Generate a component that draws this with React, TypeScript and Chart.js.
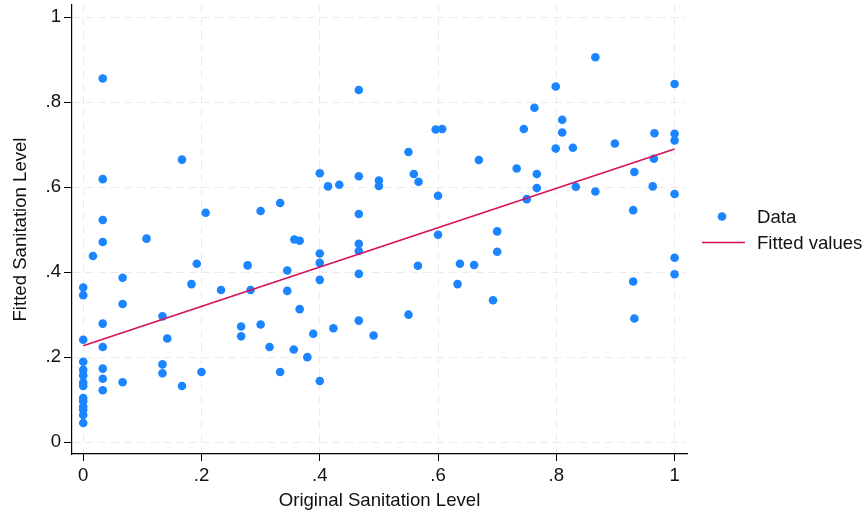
import React, { useEffect, useRef } from "react";
import { Chart, registerables } from "chart.js";

Chart.register(...registerables);

// Scatter data (Original Sanitation Level -> Fitted Sanitation Level)
const dataX: number[] = [
  0, 0, 0, 0, 0, 0, 0, 0, 0, 0, 0, 0, 0, 0,
  0.0164,
  0.033, 0.033, 0.033, 0.033, 0.033, 0.033, 0.033, 0.033, 0.033,
  0.0666, 0.0666, 0.0666,
  0.107,
  0.134, 0.134, 0.134,
  0.142,
  0.167, 0.167,
  0.183, 0.192, 0.2, 0.207, 0.233,
  0.267, 0.267,
  0.278, 0.283,
  0.3, 0.3,
  0.315,
  0.333, 0.333,
  0.345, 0.345,
  0.356, 0.357,
  0.366, 0.366,
  0.379, 0.389,
  0.4, 0.4, 0.4, 0.4, 0.4,
  0.414, 0.423, 0.433,
  0.466, 0.466, 0.466, 0.466, 0.466, 0.466, 0.466,
  0.491,
  0.5, 0.5,
  0.55, 0.55,
  0.559, 0.567, 0.566,
  0.596, 0.607,
  0.6, 0.6,
  0.633, 0.637, 0.661, 0.669, 0.693,
  0.7, 0.7,
  0.733, 0.745, 0.75, 0.763,
  0.767, 0.767,
  0.799, 0.799,
  0.81, 0.81,
  0.828, 0.833,
  0.866, 0.866,
  0.899,
  0.93, 0.93,
  0.932, 0.932,
  0.963, 0.965, 0.966,
  1, 1, 1, 1, 1, 1,
];
const dataY: number[] = [
  0.364, 0.346, 0.241, 0.189, 0.17, 0.157, 0.14, 0.132, 0.104, 0.096, 0.084, 0.076, 0.064, 0.045,
  0.438,
  0.856, 0.619, 0.523, 0.471, 0.279, 0.224, 0.173, 0.149, 0.122,
  0.387, 0.325, 0.141,
  0.479,
  0.296, 0.183, 0.162,
  0.244,
  0.665, 0.132,
  0.372, 0.42, 0.165, 0.54, 0.358,
  0.272, 0.249,
  0.416, 0.358,
  0.544, 0.277,
  0.224,
  0.563, 0.165,
  0.404, 0.356,
  0.218, 0.477,
  0.474, 0.313,
  0.2, 0.255,
  0.633, 0.444, 0.422, 0.382, 0.144,
  0.602, 0.268, 0.606,
  0.829, 0.626, 0.537, 0.467, 0.45, 0.396, 0.286,
  0.251,
  0.616, 0.603,
  0.683, 0.3,
  0.631, 0.613, 0.415,
  0.736, 0.737,
  0.58, 0.488,
  0.372, 0.42, 0.417, 0.664, 0.334,
  0.496, 0.448,
  0.644, 0.737, 0.572, 0.787,
  0.631, 0.598,
  0.837, 0.691,
  0.759, 0.729,
  0.693, 0.601,
  0.906, 0.59,
  0.703,
  0.546, 0.378,
  0.636, 0.291,
  0.602, 0.667, 0.727,
  0.843, 0.726, 0.71, 0.584, 0.434, 0.395,
];

// Fitted line end points
const fitX: number[] = [0, 1];
const fitY: number[] = [0.227, 0.69];

// Axis ticks
const tickValues: number[] = [0, 0.2, 0.4, 0.6, 0.8, 1];
const tickLabels: string[] = ["0", ".2", ".4", ".6", ".8", "1"];

const legendLabels: string[] = ["Data", "Fitted values"];
const xTitle = "Original Sanitation Level";
const yTitle = "Fitted Sanitation Level";

const BLUE = "#1a85ff";
const RED = "#d41159";
const FONT = "'Liberation Sans', Arial, sans-serif";
const TEXT = "#111111";
const FSIZE = 18.6;

function labelFor(v: number): string {
  const i = tickValues.findIndex((t) => Math.abs(t - v) < 1e-6);
  return i >= 0 ? tickLabels[i] : "";
}

const legendPlugin = {
  id: "stataLegend",
  afterDraw(chart: any) {
    const ctx = chart.ctx as CanvasRenderingContext2D;
    ctx.save();
    ctx.font = `${FSIZE}px ${FONT}`;
    ctx.textBaseline = "middle";
    ctx.textAlign = "left";
    // Data marker
    ctx.beginPath();
    ctx.fillStyle = BLUE;
    ctx.arc(722, 216.5, 4.3, 0, Math.PI * 2);
    ctx.fill();
    ctx.fillStyle = TEXT;
    ctx.fillText(legendLabels[0], 757, 217.5);
    // Fitted line marker
    ctx.beginPath();
    ctx.strokeStyle = RED;
    ctx.lineWidth = 1.5;
    ctx.moveTo(702, 242.5);
    ctx.lineTo(745, 242.5);
    ctx.stroke();
    ctx.fillText(legendLabels[1], 757, 244);
    ctx.restore();
  },
};

export default function App() {
  const ref = useRef<HTMLCanvasElement | null>(null);

  useEffect(() => {
    document.body.style.margin = "0";
    const canvas = ref.current;
    if (!canvas) return;
    const setTicks = (scale: any) => {
      scale.ticks = tickValues.map((v) => ({ value: v }));
    };
    const tickFont = { family: FONT, size: FSIZE };
    const chart = new Chart(canvas, {
      type: "scatter",
      data: {
        datasets: [
          {
            type: "line",
            label: legendLabels[1],
            data: fitX.map((x, i) => ({ x, y: fitY[i] })),
            borderColor: RED,
            borderWidth: 1.6,
            pointRadius: 0,
            fill: false,
            order: 0,
          } as any,
          {
            label: legendLabels[0],
            data: dataX.map((x, i) => ({ x, y: dataY[i] })),
            backgroundColor: BLUE,
            borderColor: BLUE,
            borderWidth: 0,
            pointRadius: 4.3,
            pointHoverRadius: 4.3,
            order: 1,
          },
        ],
      },
      options: {
        animation: false,
        responsive: false,
        maintainAspectRatio: false,
        layout: { padding: { top: 5, right: 179, left: 0, bottom: 0 } },
        plugins: { legend: { display: false }, tooltip: { enabled: false } },
        scales: {
          x: {
            type: "linear",
            min: -0.019,
            max: 1.021,
            afterBuildTicks: setTicks,
            afterFit: (s: any) => {
              s.height = 65;
              s.paddingLeft = 0;
              s.paddingRight = 0;
            },
            grid: {
              color: "#ebebeb",
              lineWidth: 1,
              tickColor: "#000",
              tickLength: 7,
              tickWidth: 1,
            },
            border: { display: true, color: "#000", width: 1.2, dash: [8, 5] },
            ticks: {
              callback: (v: any) => labelFor(Number(v)),
              font: tickFont,
              color: TEXT,
              padding: 4,
              maxRotation: 0,
              autoSkip: false,
              includeBounds: false,
            },
            title: {
              display: true,
              text: xTitle,
              font: tickFont,
              color: TEXT,
              padding: { top: 0, bottom: 7 },
            },
          },
          y: {
            type: "linear",
            min: -0.028,
            max: 1.029,
            afterBuildTicks: setTicks,
            afterFit: (s: any) => {
              s.width = 72;
              s.paddingTop = 0;
              s.paddingBottom = 0;
            },
            grid: {
              color: "#ebebeb",
              lineWidth: 1,
              tickColor: "#000",
              tickLength: 8,
              tickWidth: 1,
            },
            border: { display: true, color: "#000", width: 1.2, dash: [8, 5] },
            ticks: {
              callback: (v: any) => labelFor(Number(v)),
              font: tickFont,
              color: TEXT,
              padding: 3,
              autoSkip: false,
              includeBounds: false,
            },
            title: {
              display: true,
              text: yTitle,
              font: tickFont,
              color: TEXT,
              padding: { top: 10, bottom: 0 },
            },
          },
        },
      },
      plugins: [legendPlugin],
    });
    return () => chart.destroy();
  }, []);

  return (
    <div style={{ width: 866, height: 519 }}>
      <canvas ref={ref} width={866} height={519} style={{ display: "block" }} />
    </div>
  );
}
